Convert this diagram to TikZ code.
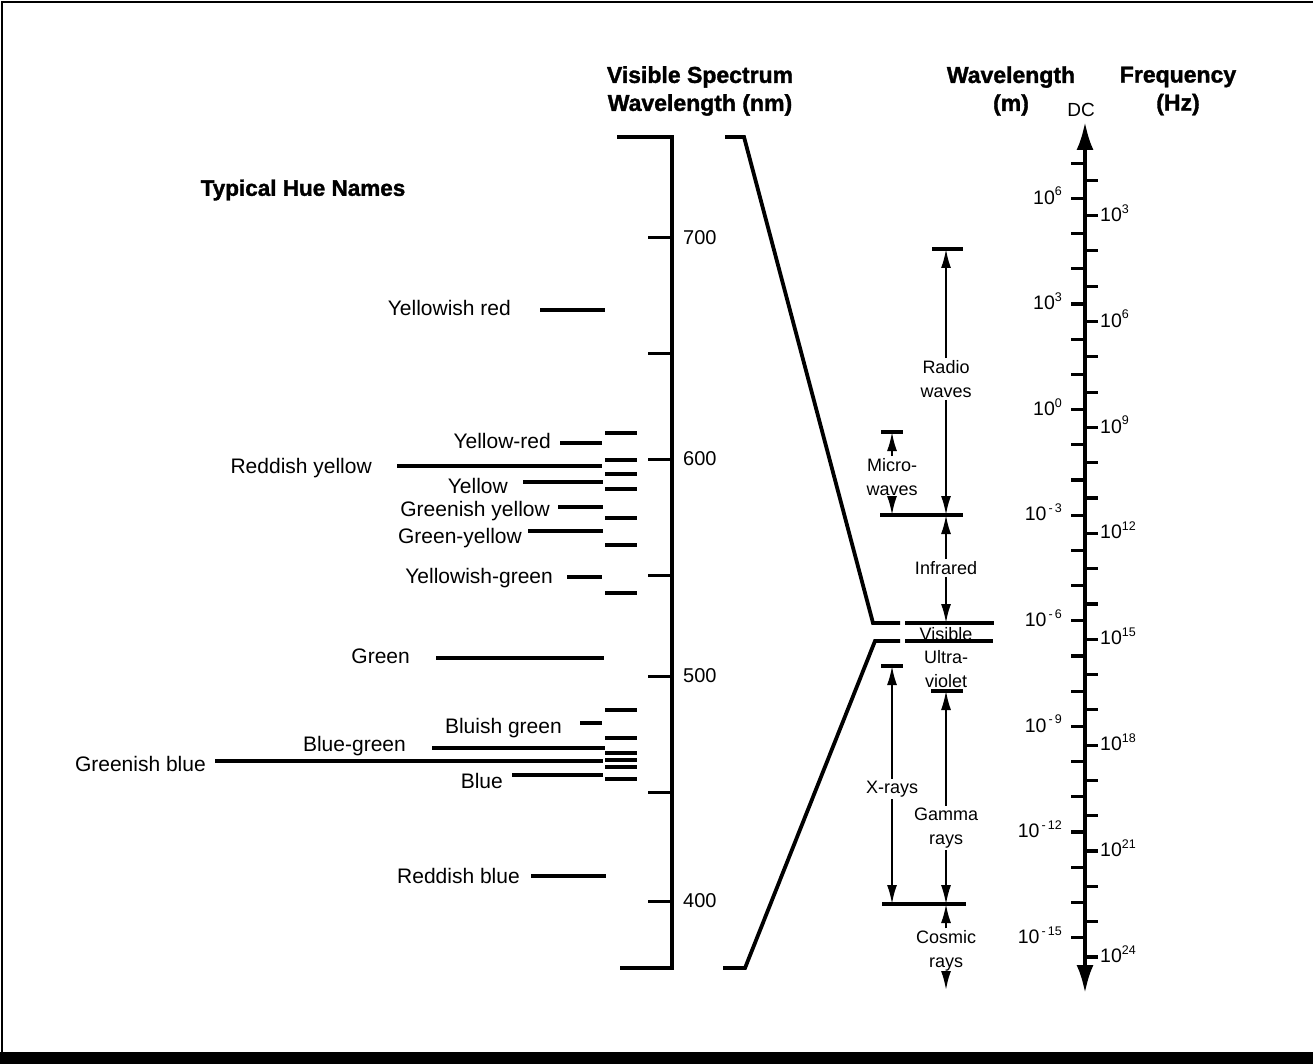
\documentclass[tikz,border=0pt]{standalone}
\usepackage{fontspec}
\setmainfont{Liberation Sans}
\newfontfamily\heavyfont{Liberation Sans Bold}[FakeBold=1.5]
\usetikzlibrary{arrows.meta}
\newcommand\mysup[1]{\raisebox{0.42em}{\fontsize{12.5}{13}\selectfont #1}}
\begin{document}
\begin{tikzpicture}[x=1pt,y=-1pt,
  huelabel/.style={font=\fontsize{21}{25}\selectfont, inner sep=0pt, anchor=mid east},
  hline/.style={line width=3.3pt},
  hmark/.style={line width=3.6pt},
  bracket/.style={line width=3.8pt, line join=miter},
  emb/.style={line width=3.4pt},
  emlabel/.style={font=\fontsize{18}{24}\selectfont, align=center, inner sep=2pt},
  emarrow/.style={line width=2pt, -{Latex[length=19pt,width=10pt]}},
  thinarrow/.style={line width=1.4pt, -{Latex[length=19pt,width=10pt]}},
  heading/.style={font=\heavyfont\fontsize{23}{28}\selectfont, align=center, inner sep=0pt},
  axtick/.style={line width=3.2pt},
  axlabel/.style={font=\fontsize{19.5}{21}\selectfont, inner sep=0pt},
  speclabel/.style={font=\fontsize{20}{22}\selectfont, inner sep=0pt, anchor=mid west}
]
\useasboundingbox (0,0) rectangle (1313,1064);
% frame
\draw[line width=1.6pt] (2,1058) -- (2,2) -- (1313,2);
\fill (0,1052) rectangle (1313,1064);

% headings
\node[heading] (hvis) at (700,91) {Visible Spectrum\\Wavelength (nm)};
\node[heading] (hwl) at (1011,91) {Wavelength\\(m)};
\node[heading] (hfr) at (1178,91) {Frequency\\(Hz)};
\node[heading, font=\heavyfont\fontsize{22.5}{26}\selectfont] (hhue) at (303,190) {Typical Hue Names};

% visible spectrum bracket
\draw[bracket] (617,137) -- (672,137) -- (672,968) -- (620,968);
\foreach \yy in {238,353,459,575,676,792,901}{
  \draw[line width=3pt] (648,\yy) -- (672,\yy);
}
\node[speclabel] (s700) at (683,242) {700};
\node[speclabel] (s600) at (683,463) {600};
\node[speclabel] (s500) at (683,680) {500};
\node[speclabel] (s400) at (683,905) {400};

% trapezoid connecting to EM spectrum
\draw[bracket] (725,137) -- (744,137) -- (873,623) -- (900,623);
\draw[bracket] (900,641) -- (875,641) -- (745,968) -- (723,968);

% hue names
\node[huelabel] (yr1) at (511,313) {Yellowish red};
\draw[hline] (540,310) -- (605,310);
\node[huelabel] (yr2) at (551,446) {Yellow-red};
\draw[hline] (560,443) -- (602,443);
\node[huelabel] (ry) at (372,471) {Reddish yellow};
\draw[hline] (397,466) -- (602,466);
\node[huelabel] (yel) at (508,491) {Yellow};
\draw[hline] (523,482) -- (603,482);
\node[huelabel] (gy1) at (550,514) {Greenish yellow};
\draw[hline] (558,507) -- (603,507);
\node[huelabel] (gy2) at (522,541) {Green-yellow};
\draw[hline] (528,531) -- (603,531);
\node[huelabel] (ygr) at (553,581) {Yellowish-green};
\draw[hline] (567,577) -- (602,577);
\node[huelabel] (grn) at (410,661) {Green};
\draw[hline] (436,658) -- (604,658);
\node[huelabel] (bgr) at (562,731) {Bluish green};
\draw[hline] (580,723) -- (602,723);
\node[huelabel] (blg) at (406,749) {Blue-green};
\draw[hline] (432,748) -- (605,748);
\node[huelabel] (gbl) at (206,769) {Greenish blue};
\draw[hline] (215,761) -- (603,761);
\node[huelabel] (blu) at (503,786) {Blue};
\draw[hline] (512,775) -- (603,775);
\node[huelabel] (rbl) at (520,881) {Reddish blue};
\draw[hline] (531,876) -- (606,876);

% boundary marks
\foreach \yy in {433,460,474,489,518,545,593,710,738,753,760,767,779}{
  \draw[hmark] (605,\yy) -- (637,\yy);
}

% EM spectrum bars
\coordinate (radtop) at (946,249);
\coordinate (mictop) at (892,432);
\coordinate (b515r) at (946,515);
\coordinate (b515m) at (892,515);
\coordinate (vistop) at (946,623);
\coordinate (xrtop) at (892,666);
\coordinate (gamtop) at (946,691);
\coordinate (botx) at (892,904);
\coordinate (botg) at (946,904);
\coordinate (cosend) at (946,990);

\draw[emb] (932,249) -- (963,249);
\draw[emb] (881,432) -- (903,432);
\draw[emb] (880,515) -- (963,515);
\draw[emb] (905,623) -- (994,623);
\draw[emb] (905,641) -- (993,641);
\draw[emb] (881,666) -- (903,666);
\draw[emb] (931,691) -- (963,691);
\draw[emb] (882,904) -- (966,904);

\node[emlabel] (radio) at (946,379) {Radio\\waves};
\node[emlabel] (micro) at (892,477) {Micro-\\waves};
\node[emlabel] (ir) at (946,568) {Infrared};
\node[emlabel, inner sep=0pt] (vis) at (946,634) {Visible};
\node[emlabel] (uv) at (946,669) {Ultra-\\violet};
\node[emlabel] (xray) at (892,789) {X-rays};
\node[emlabel] (gamma) at (946,828) {Gamma\\rays};
\node[emlabel] (cosmic) at (946,951) {Cosmic\\rays};

\draw[emarrow] (radio.north) -- (radtop);
\draw[emarrow] (radio.south) -- (b515r);
\draw[emarrow] (micro.north) -- (mictop);
\draw[emarrow] (micro.south) -- (b515m);
\draw[emarrow] (ir.north) -- (b515r);
\draw[emarrow] (ir.south) -- (vistop);
\draw[emarrow] (xray.north) -- (xrtop);
\draw[emarrow] (xray.south) -- (botx);
\draw[thinarrow] (gamma.north) -- (gamtop);
\draw[thinarrow] (gamma.south) -- (botg);
\draw[emarrow] (cosmic.north) -- (botg);
\draw[emarrow] (cosmic.south) -- (cosend);

% wavelength / frequency axis
\coordinate (axbot) at (1085,993);
\coordinate (axtop) at (1085,122);
\draw[line width=3.6pt, {Latex[length=28pt,width=17pt]}-{Latex[length=28pt,width=17pt]}] (axbot) -- (axtop);
\node[font=\fontsize{19}{21}\selectfont, inner sep=0pt] (dc) at (1081,110) {DC};
\foreach \n in {-15,...,7}{
  \pgfmathsetmacro\yy{550.4-35.2*(\n+4)}
  \draw[axtick] (1071,\yy) -- (1085,\yy);
}
\foreach \m in {2,...,24}{
  \pgfmathsetmacro\yy{568.6+35.3*(\m-13)}
  \draw[axtick] (1085,\yy) -- (1098,\yy);
}
\foreach \n/\t in {6/6,3/3,0/0,-3/{\,-\,3},-6/{\,-\,6},-9/{\,-\,9},-12/{\,-\,12},-15/{\,-\,15}}{
  \pgfmathsetmacro\yy{553.4-35.2*(\n+4)}
  \node[axlabel, anchor=mid east] at (1062,\yy) {10\mysup{\t}};
}
\foreach \m in {3,6,9,12,15,18,21,24}{
  \pgfmathsetmacro\yy{571.6+35.3*(\m-13)}
  \node[axlabel, anchor=mid west] at (1100,\yy) {10\mysup{\m}};
}
\end{tikzpicture}
\end{document}
